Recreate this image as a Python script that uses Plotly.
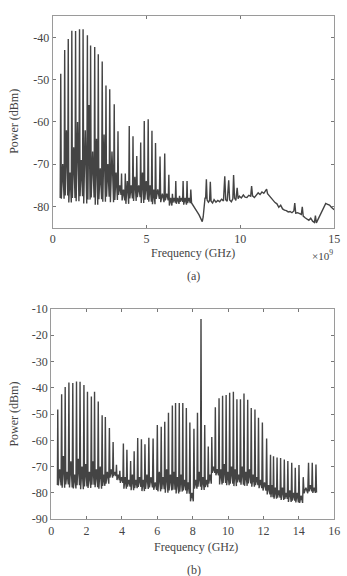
import plotly.graph_objects as go

# ---------------- data: panel (a) ----------------
a_peak_f = [0.43, 0.64, 0.83, 1.02, 1.22, 1.43, 1.62, 1.85, 2.02, 2.24, 2.43, 2.64, 2.84, 3.04,
            3.28, 3.48, 3.67, 3.87, 4.08, 4.28, 4.48, 4.69, 4.88, 5.09, 5.29, 5.48, 5.72, 5.97,
            6.19, 6.38, 6.56, 6.76, 6.95, 7.16, 7.36]
a_peak_db = [-48.6, -43, -40.4, -38.4, -38.5, -38.1, -38.1, -39.5, -41.9, -42.3, -44, -45.7, -51.4,
             -52.3, -55.8, -62.2, -72.2, -72.2, -61, -63.4, -68.1, -64.9, -59.8, -59.4, -62.1, -65,
             -68.2, -67.5, -72.5, -77, -74, -77.5, -74, -74, -76]
a_floor_db = [-78.2, -77.4, -79.1, -78.0, -78.8, -77.6, -79.3, -78.4, -77.9, -79.6, -78.3, -78.9,
              -77.7, -79.0, -78.5, -77.3, -78.6, -79.4, -78.1, -78.7, -77.8, -79.2, -78.4, -78.9,
              -79.5, -78.2, -79.0, -78.6, -79.8, -79.1, -79.4, -78.9, -79.6, -79.2]
a_mid_db = [-70, -62, -72, -66, -60, -69, -62, -56, -67, -64, -71, -63, -70, -67, -72, -75, -76, -74,
            -75, -73, -75, -72, -74, -75, -76, -76, -77, -77, -78, -78, -78, -78, -78, -78]
a_start_f, a_start_db = [0.40], [-78.0]
a_tail_f = [7.40, 7.50, 7.60, 7.70, 7.80, 7.90, 7.97, 8.02, 8.07, 8.12, 8.15, 8.19, 8.23, 8.30, 8.36,
            8.40, 8.44, 8.52, 8.60, 8.70, 8.80, 8.90, 9.00, 9.10, 9.17, 9.22, 9.30, 9.38, 9.43, 9.52,
            9.60, 9.64, 9.69, 9.76, 9.83, 9.88, 9.95, 10.05, 10.16, 10.25, 10.35, 10.45, 10.55,
            10.60, 10.65, 10.75, 10.85, 10.95, 11.05, 11.15, 11.25, 11.35, 11.40, 11.45, 11.55,
            11.65, 11.75, 11.85, 11.95, 12.05, 12.15, 12.25, 12.35, 12.45, 12.55, 12.65, 12.75,
            12.85, 12.90, 12.95, 13.05, 13.15, 13.25, 13.30, 13.35, 13.45, 13.55, 13.65, 13.75,
            13.85, 13.95, 14.00, 14.05, 14.15, 14.25, 14.35, 14.45, 14.55, 14.65, 14.75, 14.85,
            14.95, 15.00]
a_tail_db = [-79.2, -79.8, -80.5, -81.3, -82.0, -82.8, -83.6, -82.5, -80.6, -77.9, -78.2, -73.6,
             -78.5, -79.0, -78.6, -74.2, -78.8, -79.2, -78.4, -79.0, -78.6, -78.9, -78.3, -78.7,
             -72.9, -78.4, -78.8, -73.8, -78.5, -78.9, -78.2, -72.6, -78.0, -78.6, -75.6, -78.2,
             -77.6, -78.0, -77.3, -77.8, -77.9, -77.4, -77.6, -75.2, -77.5, -77.9, -77.3, -76.8,
             -77.2, -76.6, -76.9, -76.4, -75.9, -77.0, -77.6, -78.2, -78.6, -79.1, -79.4, -80.2,
             -79.7, -80.6, -80.9, -81.0, -81.3, -81.2, -81.5, -81.1, -79.2, -81.6, -81.5, -81.8,
             -81.9, -80.1, -82.3, -82.7, -83.0, -83.3, -82.8, -83.5, -83.8, -82.2, -83.9, -83.0,
             -81.8, -80.8, -80.0, -79.3, -79.5, -79.7, -80.2, -80.6, -80.8]

# ---------------- data: panel (b) ----------------
b_peak_f = [0.37, 0.59, 0.79, 1.00, 1.22, 1.43, 1.63, 1.85, 2.05, 2.27, 2.45, 2.66, 2.88, 3.06, 3.29,
            3.50, 3.69, 3.88, 4.08, 4.28, 4.49, 4.69, 4.89, 5.10, 5.30, 5.52, 5.76, 6.00, 6.22, 6.42,
            6.63, 6.85, 7.03, 7.24, 7.44, 7.64, 7.84, 8.07, 8.27, 8.47, 8.68, 8.88, 9.08, 9.28, 9.49,
            9.69, 9.89, 10.09, 10.30, 10.50, 10.70, 10.90, 11.11, 11.31, 11.52, 11.72, 11.94, 12.18,
            12.40, 12.57, 12.77, 12.97, 13.18, 13.38, 13.60, 13.80, 14.01, 14.25, 14.55, 14.76, 14.97]
b_peak_db = [-48.3, -42.5, -39.7, -38.0, -38.2, -37.6, -37.7, -39.0, -41.5, -43.3, -41.5, -45.2, -50.5,
             -51.1, -55.3, -60.6, -69.3, -71.6, -61.2, -63.6, -67.9, -64.2, -59.1, -59.6, -61.5, -59.0,
             -59.3, -54.2, -54.8, -52.9, -49.5, -46.8, -45.8, -45.8, -45.8, -47.7, -53.2, -55.6, -49.5,
             -13.9, -54.2, -62.4, -58.7, -47.4, -44.0, -43.1, -42.8, -41.9, -41.5, -44.4, -44.4, -42.2,
             -44.6, -47.7, -48.3, -51.4, -53.2, -59.3, -65.5, -66.1, -66.5, -66.7, -67.3, -67.9, -68.5,
             -70.4, -69.4, -74.0, -68.5, -68.5, -69.2]
b_floor_db = [-77.2, -78.0, -76.8, -77.9, -78.3, -77.1, -78.6, -77.5, -78.1, -76.9, -77.8, -78.4, -77.3,
              -76.5, -74.2, -73.6, -75.1, -76.2, -78.4, -77.6, -79.0, -78.2, -77.7, -79.3, -78.5, -77.9,
              -78.8, -79.4, -78.6, -79.9, -79.1, -78.8, -80.2, -79.5, -79.0, -80.3, -83.2, -78.4, -77.6,
              -78.9, -77.8, -76.5, -72.4, -73.3, -76.8, -76.2, -77.1, -76.5, -77.4, -76.0, -76.9, -77.3,
              -76.4, -77.6, -77.0, -78.2, -79.1, -80.6, -81.6, -82.2, -81.8, -82.7, -82.3, -83.4, -82.9,
              -83.6, -83.8, -80.1, -79.4, -80.0]
b_mid_db = [-71, -66, -72, -68, -73, -67, -70, -69, -72, -68, -71, -70, -73, -72,
            -71, -72, -73, -74,
            -74, -75, -73, -75, -74, -75, -73, -74, -76,
            -72, -74, -71, -73, -72, -74, -73, -75, -76,
            -80,
            -75, -72, -74, -75, -73,
            -70, -71,
            -71, -69, -72, -70, -71, -73, -70, -72, -71, -73, -74, -75,
            -76, -77,
            -77, -78, -79, -78, -80, -79, -80, -80, -81,
            -78,
            -77, -78]
b_start_f, b_start_db = [0.35], [-77.0]
b_end_f, b_end_db = [15.0], [-79.8]

# tick labels
a_xticks = [0, 5, 10, 15]
a_yticks = [-80, -70, -60, -50, -40]
b_xticks = [0, 2, 4, 6, 8, 10, 12, 14, 16]
b_yticks = [-90, -80, -70, -60, -50, -40, -30, -20, -10]


def comb_trace(pf, pdb, fl, mid):
    xs, ys = [], []
    for i in range(len(pf)):
        xs.append(pf[i]); ys.append(pdb[i])
        if i < len(pf) - 1:
            g = pf[i + 1] - pf[i]
            xs += [pf[i] + 0.15 * g, pf[i] + 0.5 * g, pf[i] + 0.85 * g]
            ys += [fl[i], mid[i], fl[i]]
    return xs, ys


ax_x, ax_y = comb_trace(a_peak_f, a_peak_db, a_floor_db, a_mid_db)
ax_x = a_start_f + ax_x + a_tail_f
ax_y = a_start_db + ax_y + a_tail_db

bx_x, bx_y = comb_trace(b_peak_f, b_peak_db, b_floor_db, b_mid_db)
bx_x = b_start_f + bx_x + b_end_f
bx_y = b_start_db + bx_y + b_end_db

W, H = 347, 576
def px(x): return x / W
def py(y): return 1 - y / H

LINE = '#444444'
FONT = dict(family='Liberation Serif, DejaVu Serif, serif', size=12, color='#444444')

fig = go.Figure()
fig.add_trace(go.Scatter(x=ax_x, y=ax_y, mode='lines', line=dict(color=LINE, width=1.4),
                         xaxis='x', yaxis='y', showlegend=False, hoverinfo='skip'))
fig.add_trace(go.Scatter(x=bx_x, y=bx_y, mode='lines', line=dict(color=LINE, width=1.4),
                         xaxis='x2', yaxis='y2', showlegend=False, hoverinfo='skip'))

axis_common = dict(showgrid=False, zeroline=False, showline=True, linecolor='#9a9a9a', linewidth=1,
                   mirror='ticks', ticks='inside', ticklen=3, tickcolor='#777', tickwidth=1,
                   tickfont=FONT)

fig.update_layout(
    width=W, height=H, margin=dict(l=0, r=0, t=0, b=0),
    paper_bgcolor='white', plot_bgcolor='white',
    xaxis=dict(domain=[px(51), px(340)], range=[0, 15], tickmode='array', tickvals=a_xticks,
               ticktext=[str(v) for v in a_xticks], anchor='y', **axis_common),
    yaxis=dict(domain=[py(226), py(9.5)], range=[-85, -35], tickmode='array', tickvals=a_yticks,
               ticktext=[str(v) for v in a_yticks], anchor='x', **axis_common),
    xaxis2=dict(domain=[px(49.5), px(340)], range=[0, 16], tickmode='array', tickvals=b_xticks,
                ticktext=[str(v) for v in b_xticks], anchor='y2', **axis_common),
    yaxis2=dict(domain=[py(525), py(309.3)], range=[-90, -10], tickmode='array', tickvals=b_yticks,
                ticktext=[str(v) for v in b_yticks], anchor='x2', **axis_common),
)

ann = [
    dict(text='Frequency (GHz)', x=px(195), y=py(252)),
    dict(text='×10<sup>9</sup>', x=px(328), y=py(254), font=dict(FONT, size=11)),
    dict(text='(a)', x=px(196), y=py(276)),
    dict(text='Power (dBm)', x=px(11), y=py(117), textangle=-90),
    dict(text='Frequency (GHz)', x=px(198), y=py(553)),
    dict(text='Power (dBm)', x=px(11), y=py(417), textangle=-90),
    dict(text='(b)', x=px(196), y=py(577)),
]
for a in ann:
    kw = dict(xref='paper', yref='paper', showarrow=False, xanchor='center', yanchor='middle',
              font=FONT)
    kw.update(a)
    fig.add_annotation(**kw)

fig.write_html('out.html')
